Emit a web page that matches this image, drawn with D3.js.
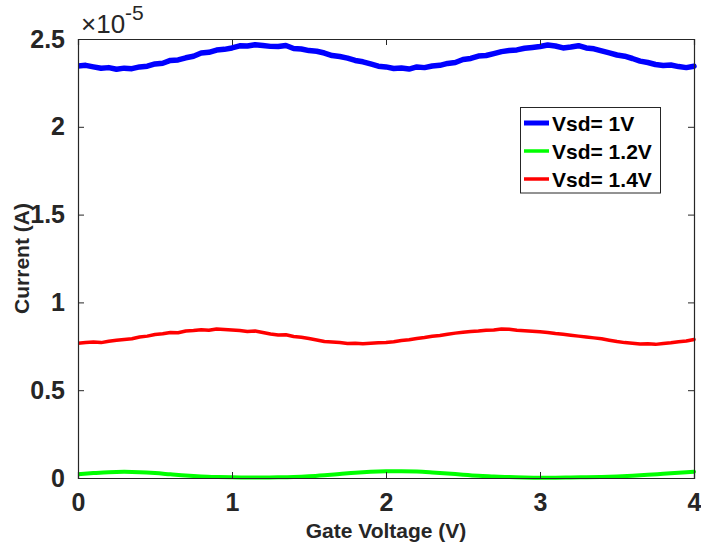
<!DOCTYPE html>
<html><head><meta charset="utf-8">
<script src="https://cdn.jsdelivr.net/npm/d3@7"></script>
<style>body{margin:0;background:#fff}svg{display:block}text{font-family:"Liberation Sans",Arial,Helvetica,sans-serif}</style>
</head><body><div id="chart"></div>
<script>
const xTicks = [0,1,2,3,4];
const yTicks = [0,0.5,1,1.5,2,2.5];
const yTickLabels = ["0","0.5","1","1.5","2","2.5"];
const seriesNames = ["Vsd= 1V","Vsd= 1.2V","Vsd= 1.4V"];
const seriesColors = ["#0000ff","#00ff00","#ff0000"];
// Gate voltage samples (V) for the noisy series, step 0.05
const gateV = d3.range(0, 81).map(i => +(i*0.05).toFixed(2));
// Gate voltage samples (V) for the smooth series, step 0.1
const gateVSmooth = d3.range(0, 41).map(i => +(i*0.1).toFixed(1));
// Current in units of 1e-5 A
const vsd1 = [2.346,2.350,2.341,2.333,2.337,2.328,2.334,2.331,2.341,2.345,
2.358,2.362,2.378,2.381,2.393,2.402,2.420,2.424,2.437,2.441,
2.449,2.461,2.460,2.467,2.463,2.458,2.457,2.463,2.446,2.443,
2.434,2.430,2.420,2.406,2.400,2.391,2.378,2.370,2.358,2.345,
2.341,2.332,2.335,2.329,2.341,2.337,2.346,2.350,2.361,2.366,
2.383,2.389,2.403,2.406,2.417,2.428,2.434,2.438,2.447,2.452,
2.457,2.466,2.460,2.449,2.454,2.462,2.449,2.444,2.432,2.421,
2.409,2.402,2.389,2.374,2.366,2.355,2.349,2.352,2.343,2.337,2.345];
const vsd12 = [0.022,0.028,0.033,0.035,0.033,0.028,0.021,0.014,0.009,0.006,
0.004,0.003,0.003,0.004,0.006,0.010,0.016,0.023,0.030,0.035,
0.038,0.039,0.037,0.032,0.026,0.019,0.013,0.009,0.005,0.003,
0.002,0.002,0.003,0.004,0.006,0.009,0.013,0.018,0.024,0.030,0.036];
const vsd14 = [0.767,0.772,0.774,0.771,0.779,0.784,0.789,0.793,0.803,0.808,
0.817,0.821,0.829,0.827,0.837,0.840,0.844,0.841,0.849,0.846,
0.843,0.840,0.834,0.837,0.829,0.820,0.814,0.816,0.806,0.801,
0.794,0.786,0.777,0.774,0.771,0.766,0.768,0.764,0.767,0.770,
0.772,0.776,0.783,0.787,0.794,0.800,0.807,0.812,0.819,0.825,
0.830,0.834,0.837,0.841,0.843,0.849,0.847,0.842,0.839,0.836,
0.833,0.829,0.823,0.818,0.813,0.808,0.803,0.798,0.793,0.785,
0.777,0.771,0.768,0.763,0.764,0.761,0.766,0.770,0.776,0.780,0.789];

const W = 701, H = 544;
const m = {l:78, t:39, r:694, b:478};
const axisColor = "#262626";
const svg = d3.select("#chart").append("svg").attr("width",W).attr("height",H);
const x = d3.scaleLinear().domain([0,4]).range([m.l,m.r]);
const y = d3.scaleLinear().domain([0,2.5]).range([m.b,m.t]);

const series = [
  {name:seriesNames[0], color:seriesColors[0], xs:gateV, ys:vsd1, w:5.5, curve:d3.curveLinear},
  {name:seriesNames[1], color:seriesColors[1], xs:gateVSmooth, ys:vsd12, w:4, curve:d3.curveMonotoneX},
  {name:seriesNames[2], color:seriesColors[2], xs:gateV, ys:vsd14, w:3.5, curve:d3.curveLinear}
];

svg.append("clipPath").attr("id","c").append("rect")
  .attr("x",m.l).attr("y",m.t-4).attr("width",m.r-m.l+3).attr("height",m.b-m.t+6);

const g = svg.append("g").attr("clip-path","url(#c)");
series.forEach(s=>{
  const line = d3.line().x((d,i)=>x(s.xs[i])).y(d=>y(d)).curve(s.curve);
  g.append("path").attr("d",line(s.ys)).attr("fill","none").attr("stroke",s.color)
    .attr("stroke-width",s.w).attr("stroke-linejoin","round").attr("stroke-linecap","round");
});

// axes
const tickLen = 6;
const axB = svg.append("g").attr("transform",`translate(0,${m.b})`)
  .call(d3.axisBottom(x).tickValues(xTicks).tickSize(-tickLen).tickPadding(15).tickFormat(d3.format("d")));
const axT = svg.append("g").attr("transform",`translate(0,${m.t})`)
  .call(d3.axisTop(x).tickValues(xTicks).tickSize(-tickLen).tickFormat(""));
const axL = svg.append("g").attr("transform",`translate(${m.l},0)`)
  .call(d3.axisLeft(y).tickValues(yTicks).tickSize(-tickLen).tickPadding(13).tickFormat((d,i)=>yTickLabels[i]));
const axR = svg.append("g").attr("transform",`translate(${m.r},0)`)
  .call(d3.axisRight(y).tickValues(yTicks).tickSize(-tickLen).tickFormat(""));
[axB,axT,axL,axR].forEach(a=>{
  a.select(".domain").attr("stroke",axisColor).attr("stroke-width",1.2);
  a.selectAll(".tick line").attr("stroke",axisColor).attr("stroke-width",1);
  a.selectAll(".tick text").attr("fill",axisColor).attr("font-size",25).attr("font-weight","bold")
   .attr("font-family","'Liberation Sans',Arial,sans-serif");
});
axB.selectAll(".tick text").attr("dy","0.71em");

// exponent label
const ex = svg.append("text").attr("x",81).attr("y",33).attr("fill",axisColor)
  .attr("font-size",26);
ex.append("tspan").text("\u00d710");
ex.append("tspan").attr("dy",-13).attr("font-size",21).text("-5");

// axis labels
svg.append("text").attr("x",(m.l+m.r)/2).attr("y",538).attr("text-anchor","middle")
  .attr("font-size",21).attr("font-weight","bold").attr("fill",axisColor).text("Gate Voltage (V)");
svg.append("text").attr("transform",`translate(29,${(m.t+m.b)/2}) rotate(-90)`).attr("text-anchor","middle")
  .attr("font-size",21).attr("font-weight","bold").attr("fill",axisColor).text("Current (A)");

// legend
const lg = svg.append("g");
lg.append("rect").attr("x",520.5).attr("y",107.5).attr("width",140).attr("height",85.5)
  .attr("fill","#fff").attr("stroke",axisColor).attr("stroke-width",1);
series.forEach((s,i)=>{
  const yy = 123 + i*28;
  lg.append("line").attr("x1",524).attr("x2",549).attr("y1",yy).attr("y2",yy)
    .attr("stroke",s.color).attr("stroke-width",i===0?5:3.5);
  lg.append("text").attr("x",552).attr("y",yy+7.5).attr("font-size",21).attr("font-weight","bold")
    .attr("fill","#000").text(s.name);
});
</script></body></html>
